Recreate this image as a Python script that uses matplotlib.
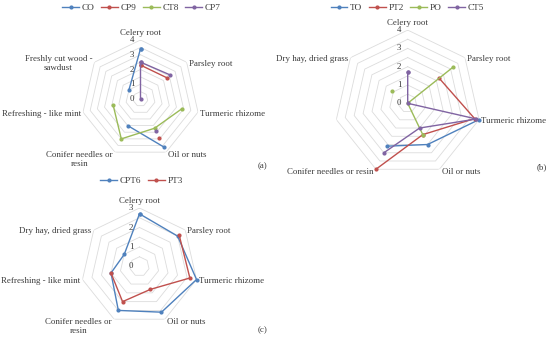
import numpy as np
import matplotlib
matplotlib.use("Agg")
import matplotlib.pyplot as plt

nan = np.nan

# ---------------- data ----------------
cats_a = ["Celery root", "Parsley root", "Turmeric rhizome", "Oil or nuts",
          "Conifer needles or\nresin", "Refreshing - like mint",
          "Freshly cut wood -\nsawdust"]
names_a = ["CO", "CP9", "CT8", "CP7"]
co = [3.4, nan, nan, 3.6, 2.0, nan, 1.0]
cp9 = [2.3, 2.3, nan, 2.9, nan, nan, nan]
ct8 = [nan, nan, 2.9, 2.2, 3.0, 1.9, nan]
cp7 = [2.5, 2.6, nan, 2.4, nan, nan, 0.0]

cats_b = ["Celery root", "Parsley root", "Turmeric rhizome", "Oil or nuts",
          "Conifer needles or resin", "", "Dry hay, dried grass"]
names_b = ["TO", "PT2", "PO", "CT5"]
to = [nan, nan, 4.0, 2.5, 2.6, nan, nan]
pt2 = [nan, 2.2, 3.75, 1.9, 4.0, nan, nan]
po = [nan, 3.2, 0.0, 1.95, nan, nan, 1.1]
ct5 = [1.7, 0.0, 3.85, 1.5, 3.0, nan, nan]

cats_c = ["Celery root", "Parsley root", "Turmeric rhizome", "Oil or nuts",
          "Conifer needles or\nresin", "Refreshing - like mint",
          "Dry hay, dried grass"]
names_c = ["CPT6", "PT3"]
cpt6 = [2.7, 2.5, 3.0, 2.6, 2.5, 1.5, 1.0]
pt3 = [nan, 2.6, 2.65, 1.3, 2.0, 1.5, nan]

colors = ["#4F81BD", "#C0504D", "#9BBB59", "#8064A2"]

W, H = 550, 340
plt.rcParams["font.family"] = ["Liberation Serif", "DejaVu Serif"]
FS = 6.4
TXT = "#3a3a3a"

fig = plt.figure(figsize=(W / 100, H / 100), dpi=100)


def radar(center, radius, cats, names, values, rmax, leg_center, panel, panel_xy):
    cx, cy = center
    rect = [(cx - radius) / W, (H - cy - radius) / H, 2 * radius / W, 2 * radius / H]
    ax = fig.add_axes(rect, projection="polar")
    n = len(cats)
    theta = np.arange(n) * 2 * np.pi / n
    ax.set_theta_zero_location("N")
    ax.set_theta_direction(-1)
    ax.set_ylim(0, rmax)
    ax.grid(False)
    ax.spines["polar"].set_visible(False)
    ax.set_xticks([])
    ax.set_yticks([])
    ax.patch.set_alpha(0)
    tc = np.append(theta, theta[0])
    for lev in np.arange(0.5, rmax + 0.01, 0.5):
        ax.plot(tc, [lev] * (n + 1), color="#dcdcdc", lw=0.6, zorder=1)
    handles = []
    for name, vals, col in zip(names, values, colors):
        v = np.append(np.asarray(vals, float), vals[0])
        h, = ax.plot(tc, v, color=col, lw=1.0, marker="o", ms=2.0,
                     label=name, zorder=3, clip_on=False)
        handles.append(h)
    # value labels
    for k in range(int(rmax) + 1):
        ax.annotate(str(k), xy=(0, k), xytext=(-4.5, 0), textcoords="offset points",
                    ha="right", va="center", fontsize=FS, color=TXT)
    # category labels
    for t, lab in zip(theta, cats):
        s, c = np.sin(t), np.cos(t)
        if abs(s) < 0.1:
            ha = "center"
        elif s > 0:
            ha = "left"
        else:
            ha = "right"
        if c > 0.9:
            va = "bottom"
        elif c < -0.8:
            va = "top"
        else:
            va = "center"
        dx = 1.5 * np.sign(s) if ha != "center" else 0
        dy = 2.5 if va == "bottom" else (1.0 if va == "top" else -1.0)
        ax.annotate(lab, xy=(t, rmax), xytext=(dx, dy), textcoords="offset points",
                    ha=ha, va=va, fontsize=FS, color=TXT, multialignment="center",
                    annotation_clip=False)
    lx, ly = leg_center
    fig.legend(handles=handles, loc="center", bbox_to_anchor=(lx / W, 1 - ly / H),
               ncol=len(names), frameon=False, fontsize=FS + 0.3, handlelength=1.8,
               handletextpad=0.3, columnspacing=0.7, borderpad=0, labelcolor=TXT)
    fig.text(panel_xy[0] / W, 1 - panel_xy[1] / H, panel, fontsize=FS,
             color=TXT, ha="center", va="center")
    return ax


radar((140.5, 99), 59, cats_a, names_a, [co, cp9, ct8, cp7], 4,
      (141.5, 8), "(a)", (262, 166))
radar((407.7, 103.3), 73.2, cats_b, names_b, [to, pt2, po, ct5], 4,
      (407.5, 8), "(b)", (542, 167))
radar((139.5, 266.5), 58.5, cats_c, names_c, [cpt6, pt3], 3,
      (141.5, 181), "(c)", (262, 330))

fig.savefig("out.png", dpi=100)
